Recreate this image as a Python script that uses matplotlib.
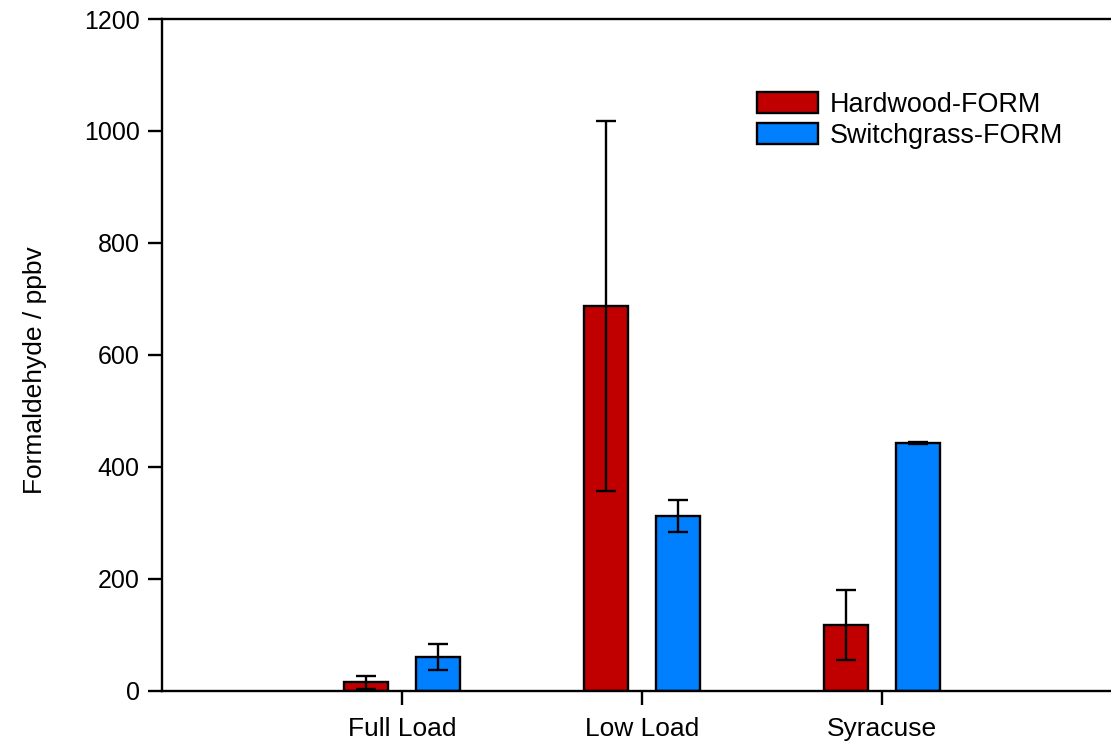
import numpy as np
import matplotlib as mpl
mpl.use('Agg')
import matplotlib.pyplot as plt  # noqa

plt.rcParams['font.family'] = ['Liberation Sans', 'DejaVu Sans']

sites = ['Full Load', 'Low Load', 'Syracuse']
hardwood = [15, 687, 117]
hardwood_err = [12, 331, 63]
switchgrass = [60, 312, 442]
switchgrass_err = [23, 28, 2]

red = '#C00000'
blue = '#0080FF'

fig = plt.figure(figsize=(11.11, 7.43), dpi=100)
ax = fig.add_axes([0.1458, 0.0704, 0.864, 0.904])

x = np.arange(1, len(sites) + 1)
width = 0.183
offset = 0.15
ekw = dict(ecolor='black', elinewidth=1.7, capsize=7.2, capthick=1.7)
ax.bar(x - offset, hardwood, width, yerr=hardwood_err, color=red,
       edgecolor='black', linewidth=1.7, label='Hardwood-FORM',
       error_kw=ekw)
ax.bar(x + offset, switchgrass, width, yerr=switchgrass_err, color=blue,
       edgecolor='black', linewidth=1.7, label='Switchgrass-FORM',
       error_kw=ekw)

ax.set_xlim(0, 4)
ax.set_ylim(0, 1200)
ax.set_xticks(x)
ax.set_xticklabels(sites)
ax.set_yticks(np.arange(0, 1201, 200))
ax.tick_params(direction='out', length=10, width=1.7, labelsize=18, pad=6)
ax.tick_params(axis='x', labelsize=19, pad=9)
for s in ax.spines.values():
    s.set_linewidth(1.7)
ax.set_ylabel('Formaldehyde / ppbv', fontsize=19)
ax.yaxis.set_label_coords(-0.120, 0.477)

ax.legend(loc='upper left', bbox_to_anchor=(0.6086, 0.908), frameon=False,
          fontsize=19.4, handlelength=2.26, handleheight=0.8,
          handletextpad=0.45, labelspacing=0.2, borderaxespad=0)

fig.savefig('out.png', dpi=100)
